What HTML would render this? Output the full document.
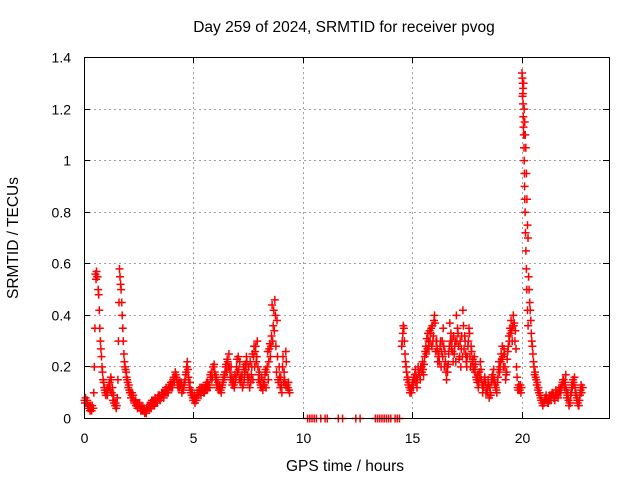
<!DOCTYPE html>
<html><head><meta charset="utf-8"><style>
body{margin:0;background:#fff;}
svg text{font-family:"Liberation Sans",sans-serif;font-size:14px;fill:#000;}
svg text.big{font-size:15.5px;}
</style></head><body>
<svg id="chart" width="640" height="480">
<text class="big" x="344" y="32" text-anchor="middle">Day 259 of 2024, SRMTID for receiver pvog</text>
<text class="big" x="345" y="471" text-anchor="middle">GPS time / hours</text>
<text class="big" transform="translate(18,238) rotate(-90)" text-anchor="middle">SRMTID / TECUs</text>
<g id="grid"></g>
<g id="axes"></g>
<g id="marks"></g>
<rect x="84.5" y="57.5" width="525" height="361" fill="none" stroke="#000" stroke-width="1"/>
</svg>
<script>
const xTicks=[0,5,10,15,20];
const yTicks=[0,0.2,0.4,0.6,0.8,1,1.2,1.4];
const yTickLabels=["0","0.2","0.4","0.6","0.8","1","1.2","1.4"];
const segAStart=0, step=0.1;
const segA=[0.07,0.06,0.04,0.04,0.04,0.56,0.55,0.35,0.2,0.12,0.1,0.12,0.16,0.07,0.05,0.08,0.58,0.45,0.25,0.18,0.12,0.1,0.08,0.06,0.05,0.05,0.04,0.03,0.03,0.04,0.05,0.06,0.05,0.07,0.08,0.08,0.09,0.10,0.11,0.12,0.13,0.14,0.16,0.14,0.13,0.12,0.15,0.22,0.12,0.09,0.07,0.08,0.09,0.1,0.11,0.12,0.11,0.13,0.18,0.2,0.15,0.14,0.12,0.13,0.16,0.18,0.25,0.2,0.15,0.14,0.18,0.22,0.17,0.15,0.24,0.2,0.14,0.15,0.26,0.3,0.18,0.16,0.14,0.12,0.15,0.24,0.3,0.46,0.38,0.2,0.13,0.14,0.26,0.12];
const segA2=[0.08,0.05,0.03,0.05,0.2,0.57,0.48,0.27,0.15,0.1,0.09,0.14,0.1,0.06,0.04,0.3,0.52,0.35,0.2,0.15,0.11,0.09,0.07,0.05,0.06,0.04,0.03,0.02,0.04,0.05,0.04,0.07,0.06,0.08,0.07,0.09,0.1,0.11,0.12,0.14,0.15,0.18,0.13,0.12,0.1,0.13,0.18,0.16,0.1,0.08,0.06,0.1,0.1,0.12,0.1,0.13,0.12,0.17,0.16,0.18,0.13,0.11,0.1,0.15,0.2,0.22,0.18,0.13,0.12,0.2,0.19,0.14,0.13,0.21,0.17,0.12,0.2,0.28,0.22,0.15,0.13,0.11,0.17,0.2,0.27,0.32,0.42,0.28,0.15,0.12,0.2,0.15,0.13,0.11];
const segA3=[0.06,0.07,0.05,0.03,0.1,0.54,0.5,0.3,0.18,0.11,0.11,0.13,0.15,0.09,0.06,0.15,0.55,0.4,0.22,0.16,0.13,0.08,0.09,0.07,0.04,0.06,0.05,0.04,0.02,0.05,0.06,0.05,0.08,0.06,0.09,0.1,0.08,0.12,0.1,0.13,0.12,0.16,0.15,0.12,0.14,0.11,0.17,0.19,0.14,0.1,0.09,0.07,0.11,0.09,0.12,0.11,0.14,0.12,0.15,0.21,0.16,0.12,0.11,0.14,0.18,0.23,0.2,0.16,0.13,0.16,0.24,0.16,0.12,0.18,0.22,0.16,0.17,0.24,0.28,0.2,0.14,0.12,0.13,0.18,0.22,0.28,0.36,0.4,0.24,0.16,0.1,0.18,0.22,0.14];
const segA4=[0.07,0.04,0.05,0.04,0.35,0.55,0.42,0.24,0.14,0.09,0.12,0.11,0.12,0.06,0.05,0.45,0.5,0.3,0.19,0.14,0.1,0.1,0.06,0.06,0.05,0.03,0.04,0.03,0.05,0.04,0.07,0.06,0.07,0.09,0.08,0.1,0.11,0.1,0.13,0.12,0.16,0.17,0.12,0.14,0.11,0.14,0.2,0.14,0.11,0.07,0.08,0.09,0.12,0.11,0.1,0.14,0.13,0.16,0.2,0.17,0.12,0.13,0.12,0.17,0.21,0.2,0.15,0.14,0.17,0.23,0.15,0.16,0.2,0.19,0.14,0.22,0.25,0.2,0.24,0.17,0.12,0.14,0.19,0.26,0.29,0.44,0.34,0.18,0.14,0.16,0.24,0.13,0.12,0.1];
const segBStart=14.5;
const segB=[0.28,0.35,0.2,0.13,0.11,0.14,0.17,0.12,0.18,0.2,0.17,0.28,0.33,0.3,0.36,0.4,0.3,0.25,0.2,0.35,0.22,0.18,0.37,0.3,0.25,0.4,0.28,0.2,0.42,0.3,0.24,0.33,0.26,0.2,0.16,0.12,0.22,0.1,0.16,0.12,0.08,0.14,0.19,0.12,0.16,0.2,0.28,0.25,0.18,0.32,0.38,0.4,0.34,0.12,0.11,1.34,1.2,0.95,0.55,0.38,0.25,0.18,0.14,0.1,0.07,0.06,0.09,0.06,0.08,0.1,0.07,0.09,0.1,0.12,0.15,0.17,0.1,0.06,0.12,0.16,0.08,0.05,0.13];
const segB2=[0.33,0.25,0.15,0.12,0.1,0.16,0.14,0.2,0.15,0.22,0.24,0.31,0.27,0.35,0.32,0.26,0.22,0.28,0.3,0.2,0.15,0.25,0.33,0.22,0.3,0.35,0.24,0.32,0.27,0.22,0.3,0.2,0.23,0.18,0.14,0.18,0.15,0.12,0.1,0.15,0.1,0.17,0.14,0.1,0.22,0.25,0.2,0.15,0.26,0.35,0.3,0.37,0.2,0.13,0.1,1.28,1.1,0.75,0.45,0.3,0.2,0.15,0.12,0.08,0.05,0.08,0.07,0.07,0.09,0.08,0.11,0.08,0.12,0.14,0.12,0.08,0.05,0.1,0.14,0.1,0.06,0.09];
const segB3=[0.3,0.3,0.18,0.14,0.12,0.12,0.19,0.15,0.17,0.18,0.21,0.25,0.3,0.33,0.3,0.37,0.27,0.22,0.26,0.28,0.18,0.21,0.3,0.26,0.28,0.3,0.23,0.27,0.36,0.25,0.28,0.24,0.22,0.24,0.15,0.14,0.19,0.13,0.14,0.1,0.12,0.16,0.15,0.11,0.19,0.22,0.24,0.2,0.23,0.3,0.34,0.36,0.27,0.11,0.13,1.25,1.15,0.85,0.5,0.33,0.22,0.16,0.11,0.09,0.06,0.07,0.08,0.08,0.07,0.09,0.1,0.1,0.11,0.13,0.13,0.11,0.07,0.09,0.15,0.12,0.07,0.07,0.1];
const segB4=[0.36,0.22,0.16,0.1,0.13,0.15,0.16,0.18,0.2,0.19,0.26,0.27,0.34,0.28,0.38,0.3,0.24,0.3,0.24,0.26,0.2,0.28,0.27,0.32,0.22,0.33,0.3,0.24,0.32,0.2,0.35,0.28,0.19,0.21,0.17,0.16,0.13,0.15,0.11,0.13,0.09,0.15,0.13,0.14,0.18,0.23,0.27,0.17,0.28,0.33,0.36,0.3,0.16,0.12,0.12,1.3,1.05,0.7,0.42,0.28,0.17,0.13,0.1,0.07,0.06,0.07,0.06,0.09,0.1,0.08,0.09,0.11,0.1,0.15,0.14,0.09,0.06,0.13,0.13,0.09,0.05,0.11,0.12];
const peakTimes=[20.02,20.03,20.04,20.05,20.06,20.07,20.08,20.09,20.1,20.11,20.12,20.13,20.14,20.16,20.18,20.2,20.22,20.25,20.28];
const peakVals=[1.32,1.3,1.26,1.22,1.17,1.13,1.1,1.05,1.0,0.95,0.9,0.85,0.8,0.72,0.65,0.58,0.5,0.42,0.36];
const zeroTimes=[10.2,10.3,10.4,10.5,10.6,10.8,11.0,11.1,11.6,11.8,12.4,12.6,13.3,13.4,13.5,13.6,13.7,13.8,13.9,14.0,14.2,14.3,14.4];
const X=t=>84.5+t*(525/24), Y=v=>418.5-v*(361/1.4);
const NS='http://www.w3.org/2000/svg';
const grid=document.getElementById('grid'),axes=document.getElementById('axes'),marks=document.getElementById('marks');
function ln(p,x1,y1,x2,y2,st,da){const l=document.createElementNS(NS,'line');l.setAttribute('x1',x1);l.setAttribute('y1',y1);l.setAttribute('x2',x2);l.setAttribute('y2',y2);l.setAttribute('stroke',st);if(da)l.setAttribute('stroke-dasharray',da);p.appendChild(l);return l;}
xTicks.forEach(t=>{const x=Math.round(X(t)-0.5)+0.5;
 if(t>0){const g=ln(grid,x,57,x,418,'#a0a0a0','2,3');}
 const k=ln(axes,x,418,x,412,'#000');
 ln(axes,x,57,x,63,'#000');
 const tx=document.createElementNS(NS,'text');tx.setAttribute('x',x);tx.setAttribute('y',443);tx.setAttribute('text-anchor','middle');tx.textContent=t;
 
 
 axes.appendChild(tx);});
yTicks.forEach((v,i)=>{const y=Math.round(Y(v)-0.5)+0.5;
 if(v>0&&v<1.4){const g=ln(grid,84,y,609,y,'#a0a0a0','2,3');}
 const k=ln(axes,84,y,90,y,'#000');
 ln(axes,609,y,603,y,'#000');
 const tx=document.createElementNS(NS,'text');tx.setAttribute('x',71);tx.setAttribute('y',y+5);tx.setAttribute('text-anchor','end');tx.textContent=yTickLabels[i];
 
 
 axes.appendChild(tx);});
let d='';
function plus(t,v){const x=X(t),y=Y(v);d+=`M${(x-4).toFixed(1)} ${y.toFixed(1)}h8M${x.toFixed(1)} ${(y-4).toFixed(1)}v8`;}
segA.forEach((v,i)=>plus(segAStart+i*step,v));
segA3.forEach((v,i)=>plus(segAStart+i*step+0.025,v));
segA2.forEach((v,i)=>plus(segAStart+i*step+0.05,v));
segA4.forEach((v,i)=>plus(segAStart+i*step+0.075,v));
segB.forEach((v,i)=>plus(segBStart+i*step,v));
segB3.forEach((v,i)=>plus(segBStart+i*step+0.025,v));
segB2.forEach((v,i)=>plus(segBStart+i*step+0.05,v));
segB4.forEach((v,i)=>plus(segBStart+i*step+0.075,v));
peakTimes.forEach((t,i)=>plus(t,peakVals[i]));
zeroTimes.forEach(t=>plus(t,0));
const p=document.createElementNS(NS,'path');p.setAttribute('d',d);p.setAttribute('stroke','#ff0000');p.setAttribute('stroke-width','1.5');p.setAttribute('fill','none');


marks.appendChild(p);
</script>
</body></html>
